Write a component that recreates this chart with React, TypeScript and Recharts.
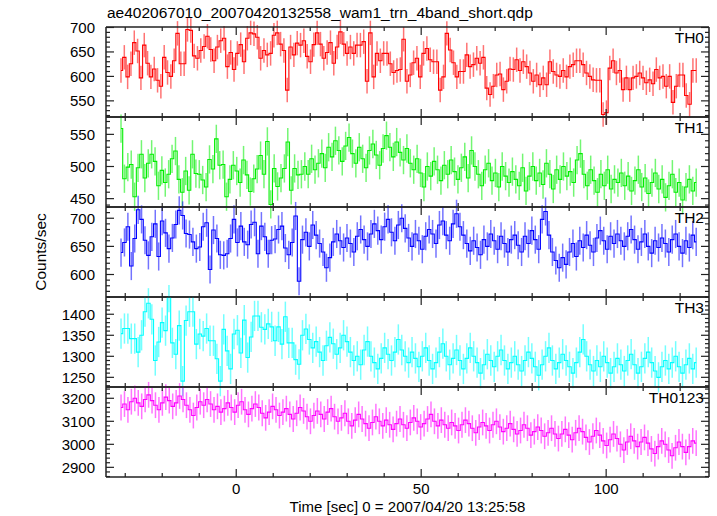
import { ComposedChart, Line, XAxis, YAxis, ErrorBar } from "recharts"

// the page is exactly the picture: no body margin, no scrollbars
document.body.style.margin = "0"
document.body.style.overflow = "hidden"
document.documentElement.style.overflow = "hidden"

// time span covered by the bins (sec)
const T_START = -31.6
const T_END = 124.8
const X_DOMAIN = [-35.2, 127.8]
const X_LABELS = [0, 50, 100]

const TH0 = [
  612, 639, 599, 626, 669, 652, 597, 664, 627, 599, 615, 592, 580, 639, 608, 600, 632, 688, 626, 626,
  696, 694, 642, 637, 653, 661, 682, 655, 632, 660, 673, 678, 620, 649, 614, 647, 665, 630, 678, 689,
  687, 680, 637, 653, 644, 647, 684, 689, 666, 653, 572, 660, 644, 668, 664, 673, 641, 630, 665, 689,
  666, 637, 649, 669, 627, 660, 691, 666, 647, 660, 647, 664, 664, 671, 590, 689, 599, 647, 632, 647,
  647, 626, 608, 612,
  614, 676, 590, 603, 628, 637, 599, 647, 657, 634, 630, 630, 572, 599, 688, 654, 628, 599, 610, 610,
  644, 620, 624, 637, 627, 639, 576, 563, 580, 603, 605, 573, 590, 615, 614, 634, 612, 630, 620, 607,
  590, 603, 583, 597, 583, 630, 610, 603, 600, 612, 599, 620, 624, 632, 632, 624, 607, 600, 593, 592,
  592, 522, 526, 617, 632, 607, 612, 573, 597, 573, 597, 600, 607, 597, 587, 593, 585, 614, 597, 600,
  580, 600, 547, 580, 603, 603, 561, 543, 612, 612,
]

const TH1 = [
  559, 481, 499, 503, 453, 498, 519, 482, 505, 519, 508, 470, 494, 475, 488, 512, 524, 480, 460, 493,
  463, 519, 489, 488, 479, 468, 511, 496, 543, 502, 503, 453, 480, 502, 493, 475, 510, 487, 461, 481,
  496, 517, 488, 539, 441, 497, 469, 482, 497, 538, 463, 497, 487, 488,
  500, 488, 512, 495, 505, 520, 498, 530, 515, 540, 525, 508, 532, 545,
  520, 505, 530, 512, 498, 525, 535, 518, 502, 528, 548, 530, 515, 538, 522, 510,
  528, 505, 495, 512, 490, 468, 500, 485, 508, 495, 478, 502, 488, 510, 492, 480,
  498, 515, 482, 525, 500, 488, 470, 495, 505, 478, 490, 468, 500, 485, 475, 492,
  480, 470, 498, 462, 485, 500, 478, 490, 472, 505, 488, 465, 495, 480, 500, 485,
  492, 475, 510, 520, 488, 470, 495, 478, 460, 488, 470, 495, 465, 480, 475, 490,
  470, 485, 462, 478, 495, 468, 482, 458, 475, 490, 465, 480, 452, 470, 488, 460, 475, 448, 468, 480, 462, 475,
]

const TH2 = [
  639, 657, 685, 615, 664, 715, 698, 661, 634, 667, 690, 632, 695, 674, 646, 665, 689, 714, 705, 673,
  671, 658, 646, 649, 685, 692, 609, 679, 664, 635, 634, 637, 664, 698, 657, 686, 658, 653, 689, 693,
  637, 686, 667, 637, 661, 663, 680, 686, 647, 635, 657, 704, 588,
  662, 675, 650, 688, 670, 655, 640, 612, 630, 658, 672, 660, 648, 665,
  655, 640, 668, 680, 662, 650, 672, 690, 678, 662, 685, 698, 675, 660, 688, 700,
  682, 665, 650, 672, 660, 645, 668, 680, 672, 655, 688, 695, 670, 660, 690, 708,
  685, 670, 655, 642, 660, 648, 635, 662, 650, 672, 660, 645, 668, 655, 640, 662,
  670, 652, 640, 668, 655, 678, 662, 645, 698, 712, 670, 640, 625, 612, 630, 618,
  640, 655, 632, 660, 648, 670, 652, 640, 665, 678, 660, 645, 668, 655, 672, 660,
  650, 668, 680, 662, 645, 658, 672, 650, 638, 660, 648, 665, 655, 640, 662, 672, 650, 638, 660, 648, 670, 658,
]

const TH3 = [
  1354, 1366, 1366, 1342, 1342, 1310, 1350, 1406, 1426, 1388, 1290, 1334, 1380, 1361, 1441, 1332, 1305, 1373, 1241, 1385,
  1406, 1406, 1329, 1353, 1348, 1366, 1337, 1337, 1294, 1241, 1364, 1313, 1270, 1353, 1362, 1308, 1386, 1297, 1346, 1396,
  1396, 1369, 1364, 1377, 1370, 1337, 1370, 1329, 1394, 1332, 1332, 1292, 1281,
  1350, 1365, 1340, 1320, 1335, 1310, 1290, 1325, 1345, 1330, 1305, 1320, 1350, 1335,
  1310, 1290, 1300, 1280, 1315, 1335, 1300, 1285, 1270, 1295, 1320, 1305, 1290, 1310, 1340, 1315,
  1300, 1285, 1310, 1295, 1275, 1300, 1320, 1290, 1270, 1285, 1310, 1330, 1300, 1280, 1295, 1315,
  1290, 1270, 1295, 1320, 1300, 1285, 1260, 1280, 1305, 1290, 1275, 1300, 1315, 1290, 1270, 1285,
  1300, 1280, 1265, 1290, 1310, 1295, 1275, 1255, 1280, 1300, 1320, 1290, 1270, 1285, 1305, 1290,
  1275, 1260, 1285, 1310, 1340, 1300, 1280, 1265, 1290, 1275, 1300, 1285, 1260, 1275, 1295, 1280,
  1265, 1290, 1305, 1280, 1260, 1275, 1295, 1310, 1285, 1265, 1250, 1275, 1290, 1270, 1285, 1300, 1275, 1260, 1280, 1295, 1270, 1285,
]

const TH0123 = [
  3160, 3175, 3150, 3185, 3200, 3180, 3165, 3195, 3215, 3190, 3170, 3150, 3180, 3205, 3190, 3165,
  3180, 3210, 3195, 3170, 3150, 3125, 3160, 3185, 3170, 3195, 3175, 3150, 3165, 3140, 3155, 3180,
  3160, 3140, 3170, 3185, 3150, 3130, 3155, 3175, 3160, 3135, 3115, 3140, 3165, 3150, 3125, 3140,
  3155, 3130, 3110, 3135, 3160, 3145, 3120, 3100, 3125, 3145, 3130, 3110, 3140, 3155, 3120, 3100,
  3115, 3135, 3100, 3080, 3105, 3130, 3110, 3090, 3070, 3095, 3120, 3100, 3080, 3105, 3085, 3065,
  3090, 3110, 3085, 3070, 3095, 3115, 3100, 3075, 3090, 3110, 3130, 3100, 3080, 3105, 3085, 3070,
  3095, 3080, 3060, 3085, 3105, 3090, 3070, 3050, 3075, 3095, 3080, 3060, 3085, 3100, 3075, 3055,
  3070, 3090, 3065, 3045, 3060, 3085, 3070, 3040, 3055, 3075, 3060, 3035, 3050, 3070, 3045, 3025,
  3045, 3065, 3040, 3020, 3050, 3070, 3055, 3030, 3010, 3035, 3060, 3040, 3015, 2995, 3020, 3045,
  3025, 3000, 2975, 3010, 3035, 3015, 2990, 3010, 3030, 3005, 2980, 2960, 2990, 3015, 3000, 2975,
  2950, 2985, 3010, 2990, 2965, 2990, 3015, 3005,
]

// typical 1-sigma errors per band
const ERR_TH0 = 25
const ERR_TH1 = 22
const ERR_TH2 = 25
const ERR_TH3 = 36
const ERR_TH0123 = 56

const TH0_LABELS = [550, 600, 650, 700]
const TH1_LABELS = [450, 500, 550]
const TH2_LABELS = [600, 650, 700]
const TH3_LABELS = [1250, 1300, 1350, 1400]
const TH0123_LABELS = [2900, 3000, 3100, 3200]

const FONT = "'Liberation Sans', Arial, Helvetica, sans-serif"
const LEFT = 106
const RIGHT = 709
const W = 717
const H = 516
const PANEL_H = 90
const TOP0 = 27
const PAD = 12

const range = (a: number, b: number, s: number) => {
  const out: number[] = []
  for (let v = a; v <= b + 1e-9; v += s) out.push(Math.round(v * 100) / 100)
  return out
}

const X_TICKS = range(-30, 120, 10)

const panels = [
  { name: "TH0", values: TH0, err: ERR_TH0, color: "#ff0000", domain: [517, 701], labels: TH0_LABELS, minor: 10 },
  { name: "TH1", values: TH1, err: ERR_TH1, color: "#00ee00", domain: [437, 577], labels: TH1_LABELS, minor: 10 },
  { name: "TH2", values: TH2, err: ERR_TH2, color: "#0000ff", domain: [560, 720], labels: TH2_LABELS, minor: 10 },
  { name: "TH3", values: TH3, err: ERR_TH3, color: "#00ffff", domain: [1227, 1441], labels: TH3_LABELS, minor: 10 },
  { name: "TH0123", values: TH0123, err: ERR_TH0123, color: "#ff00ff", domain: [2858, 3249], labels: TH0123_LABELS, minor: 20 },
]

function toRows(values: number[], err: number) {
  const dt = (T_END - T_START) / values.length
  return values.map((v, i) => ({ t: T_START + (i + 0.5) * dt, v, err }))
}

function Panel({ p, index }: { p: (typeof panels)[number]; index: number }) {
  const last = index === panels.length - 1
  const top = TOP0 + index * PANEL_H
  const bottomPad = last ? 36 : PAD
  const yTicks = range(Math.ceil(p.domain[0] / p.minor) * p.minor, Math.floor(p.domain[1] / p.minor) * p.minor, p.minor)
  const frame = { stroke: "#222", strokeWidth: 1.5 }

  // axes are 1px thick (a 0px axis is not drawn), margins take that pixel back
  return (
    <div style={{ position: "absolute", left: 0, top: top - PAD }}>
      <ComposedChart
        width={W}
        height={PANEL_H + PAD + bottomPad}
        data={toRows(p.values, p.err)}
        margin={{ top: PAD - 1, bottom: bottomPad - 1, left: LEFT - 1, right: W - RIGHT - 1 }}
      >
        <XAxis
          dataKey="t"
          type="number"
          domain={X_DOMAIN}
          allowDataOverflow
          ticks={X_TICKS}
          interval={0}
          height={1}
          tickSize={0}
          tickMargin={0}
          axisLine={frame}
          tickLine={false}
          tick={(t: any) => {
            const major = X_LABELS.includes(t.payload.value)
            return (
              <g>
                <line x1={t.x} x2={t.x} y1={t.y} y2={t.y - (major ? 8 : 4)} stroke="#222" strokeWidth={1.2} />
                {last && major && (
                  <text x={t.x} y={t.y + 16.5} textAnchor="middle" fontFamily={FONT} fontSize={15} fill="#000">
                    {t.payload.value}
                  </text>
                )}
              </g>
            )
          }}
        />
        <XAxis
          xAxisId="top"
          orientation="top"
          type="number"
          dataKey="t"
          domain={X_DOMAIN}
          allowDataOverflow
          ticks={X_TICKS}
          interval={0}
          height={1}
          tickSize={0}
          tickMargin={0}
          axisLine={frame}
          tickLine={false}
          tick={(t: any) => {
            const major = X_LABELS.includes(t.payload.value)
            return <line x1={t.x} x2={t.x} y1={t.y} y2={t.y + (major ? 8 : 4)} stroke="#222" strokeWidth={1.2} />
          }}
        />
        <YAxis
          type="number"
          domain={p.domain}
          allowDataOverflow
          ticks={yTicks}
          interval={0}
          width={1}
          tickSize={0}
          tickMargin={0}
          axisLine={frame}
          tickLine={false}
          tick={(t: any) => {
            const major = p.labels.includes(t.payload.value)
            return (
              <g>
                <line x1={t.x} x2={t.x + (major ? 8 : 4)} y1={t.y} y2={t.y} stroke="#222" strokeWidth={1.2} />
                {major && (
                  <text x={t.x - 11} y={t.y} dy="0.36em" textAnchor="end" fontFamily={FONT} fontSize={15} fill="#000">
                    {t.payload.value}
                  </text>
                )}
              </g>
            )
          }}
        />
        <YAxis
          yAxisId="r"
          orientation="right"
          type="number"
          domain={p.domain}
          allowDataOverflow
          ticks={yTicks}
          interval={0}
          width={1}
          tickSize={0}
          tickMargin={0}
          axisLine={frame}
          tickLine={false}
          tick={(t: any) => {
            const major = p.labels.includes(t.payload.value)
            return <line x1={t.x} x2={t.x - (major ? 8 : 4)} y1={t.y} y2={t.y} stroke="#222" strokeWidth={1.2} />
          }}
        />
        <Line
          dataKey="v"
          type="step"
          stroke={p.color}
          strokeWidth={1.1}
          dot={false}
          isAnimationActive={false}
        >
          <ErrorBar dataKey="err" direction="y" width={0} stroke={p.color} strokeOpacity={0.55} strokeWidth={1.5} isAnimationActive={false} />
        </Line>
      </ComposedChart>
    </div>
  )
}

export default function App() {
  return (
    <div style={{ position: "relative", width: W, height: H, background: "#fff", overflow: "hidden" }}>
      {panels.map((p, i) => (
        <Panel key={p.name} p={p} index={i} />
      ))}
      <svg width={W} height={H} style={{ position: "absolute", left: 0, top: 0, pointerEvents: "none" }}>
        <text x={107} y={18} fontFamily={FONT} fontSize={15.5} fill="#000">
          ae402067010_20070420132558_wam1_trn_4band_short.qdp
        </text>
        {panels.map((p, i) => (
          <text key={p.name} x={RIGHT - 5} y={TOP0 + i * PANEL_H + 16} textAnchor="end" fontFamily={FONT} fontSize={15.5} fill="#000">
            {p.name}
          </text>
        ))}
        <text x={(LEFT + RIGHT) / 2} y={511.5} textAnchor="middle" fontFamily={FONT} fontSize={15} fill="#000">
          Time [sec] 0 = 2007/04/20 13:25:58
        </text>
        <text
          x={46}
          y={TOP0 + (5 * PANEL_H) / 2}
          textAnchor="middle"
          transform={`rotate(-90 46 ${TOP0 + (5 * PANEL_H) / 2})`}
          fontFamily={FONT}
          fontSize={15.5}
          fill="#000"
        >
          Counts/sec
        </text>
      </svg>
    </div>
  )
}
